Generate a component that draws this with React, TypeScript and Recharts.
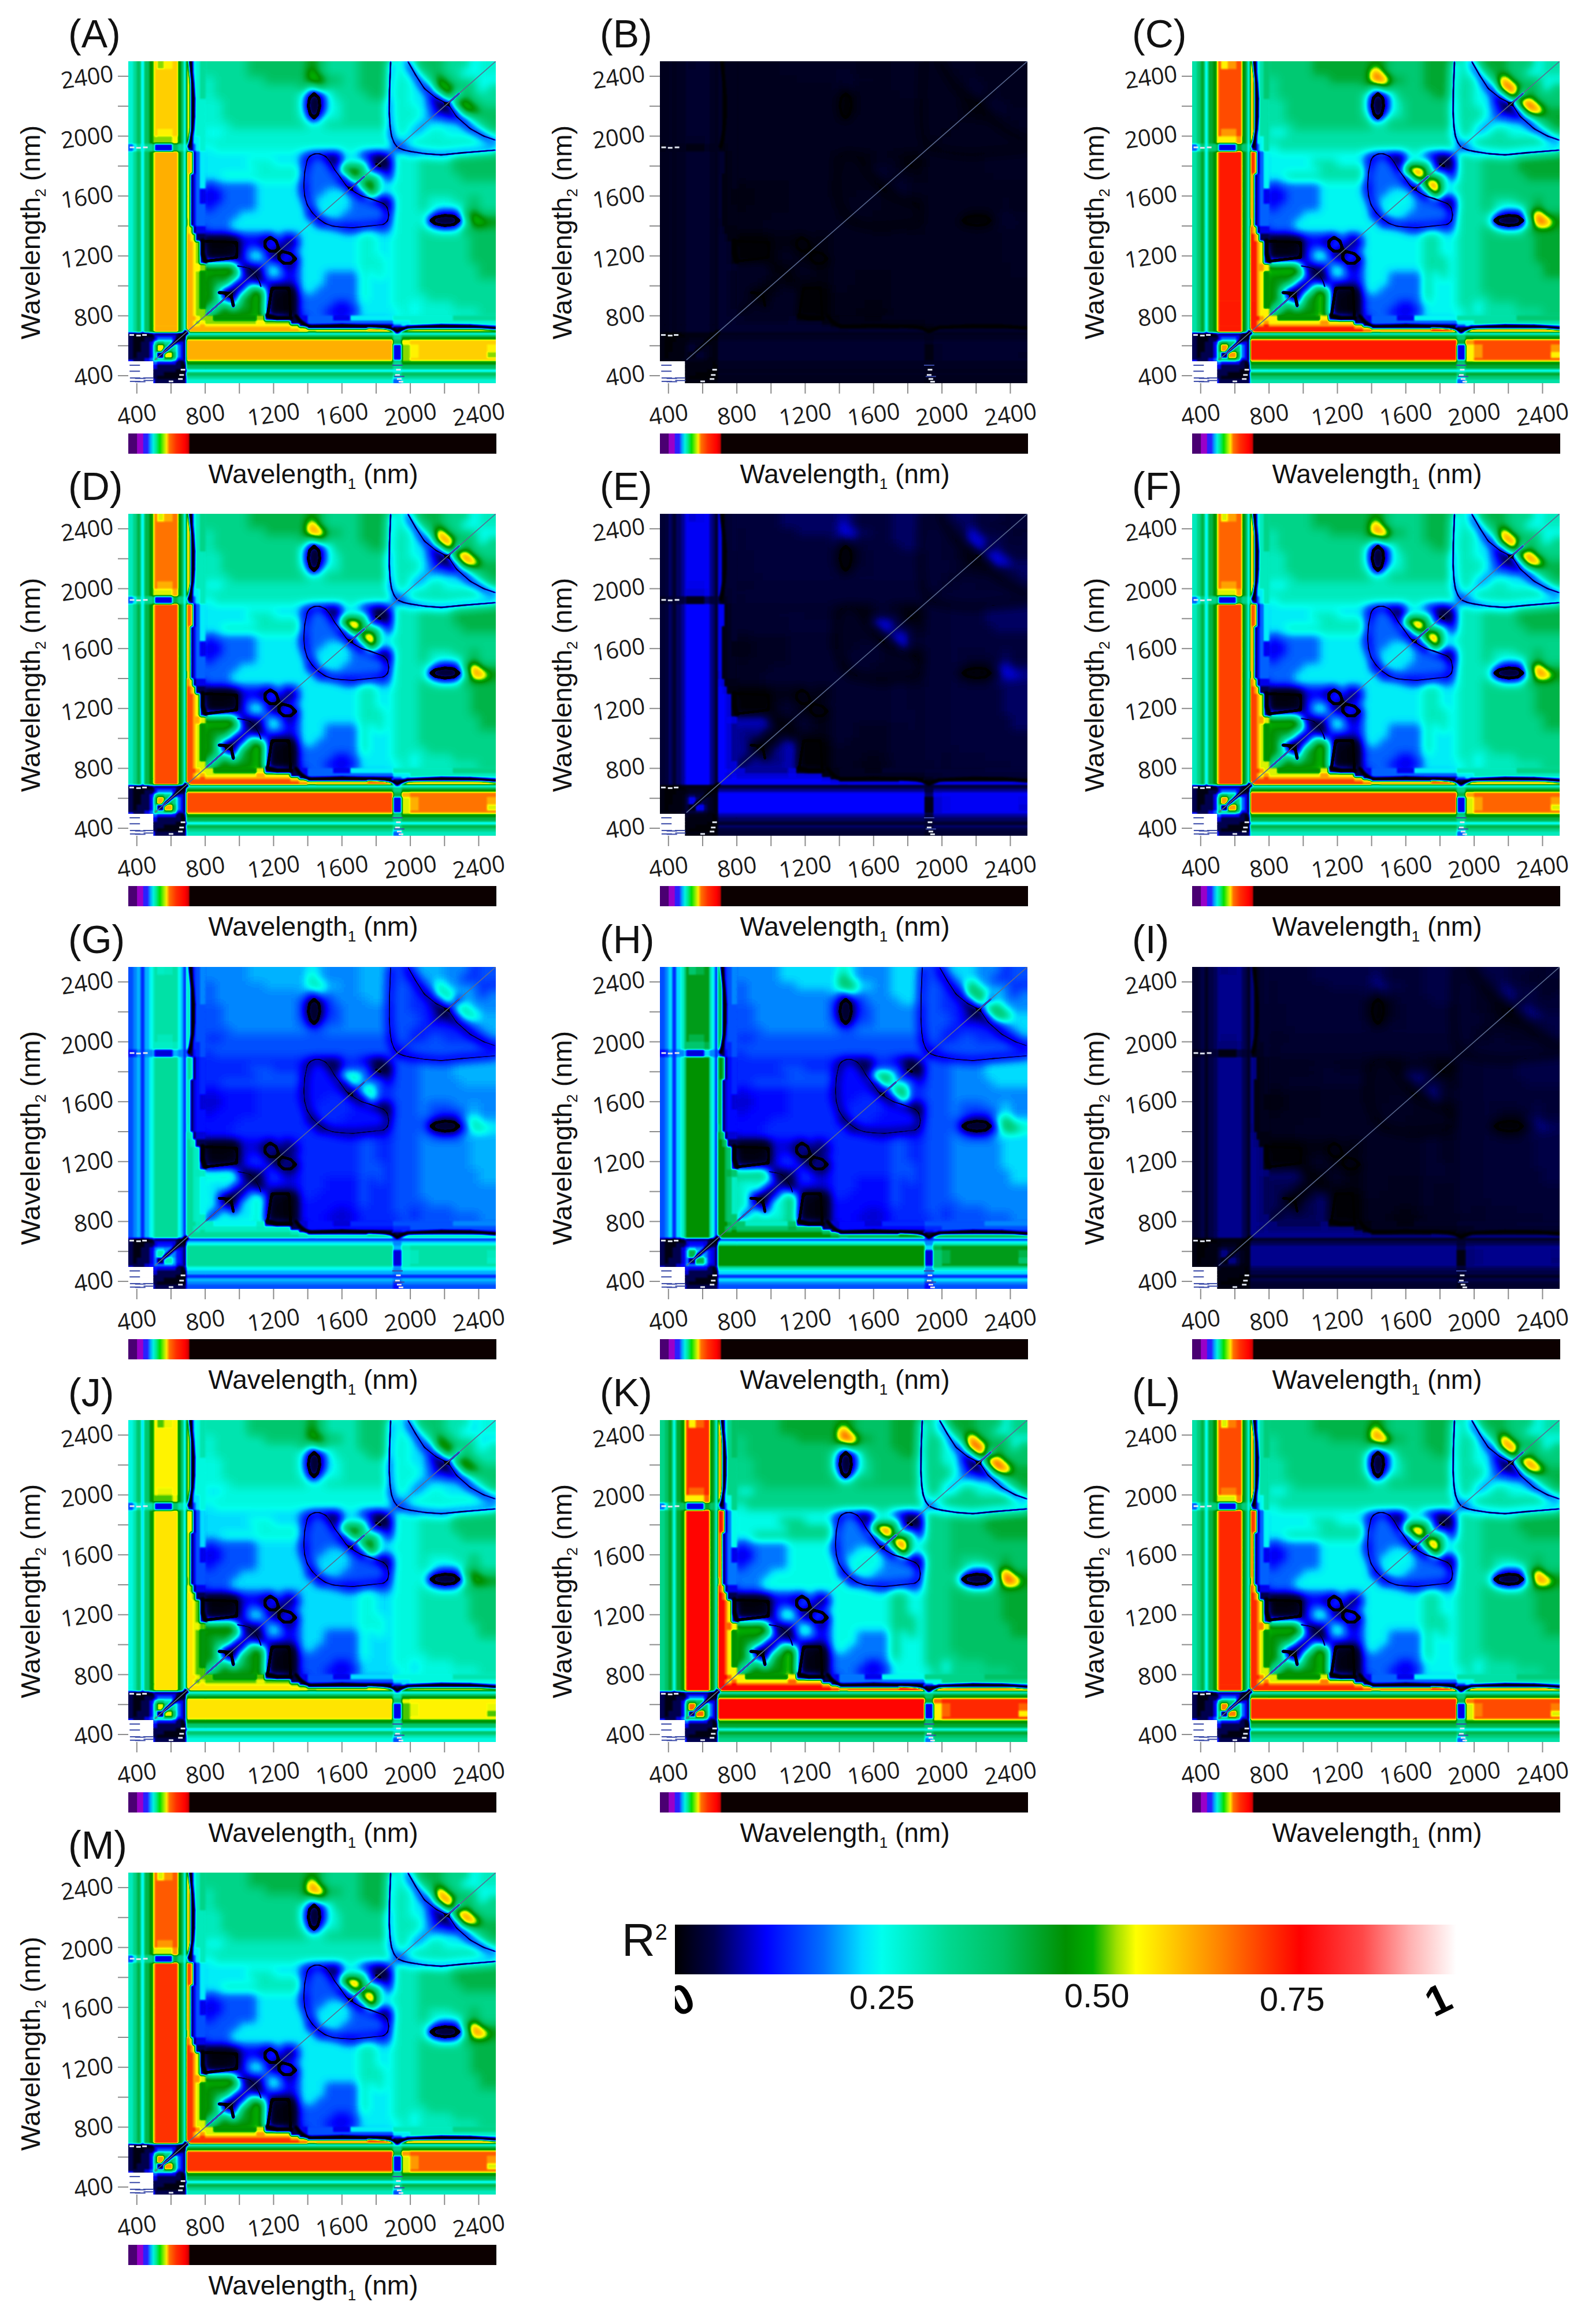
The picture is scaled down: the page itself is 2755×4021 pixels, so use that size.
import React from "react"
import { BarChart, Bar, ComposedChart, Scatter, XAxis, YAxis } from "recharts"

// wavelength bin edges, nm (fine in the visible, 50 nm above 800)
const edges = [350, 380, 400, 425, 445, 475, 495, 505, 520, 560, 610, 630, 642, 660, 675, 690, 700, 715, 730, 745, 770,
  800, 850, 900, 950, 1000, 1050, 1100, 1150, 1200, 1250, 1300, 1350, 1400, 1450, 1500, 1550, 1600, 1650, 1700, 1750,
  1800, 1850, 1900, 1950, 2000, 2050, 2100, 2150, 2200, 2250, 2300, 2350, 2400, 2450, 2500]

const P = "tugcgGlooooooGgc".slice(0, 12) + "Ggc"
const Q = "tugcgGlqqqqqGgc"

// zone of each cell, upper-left triangle (the maps are symmetric), y from 2450 down to 350
const zoneRows = [
  "tugcgGlqlyqqGgc lynctu uuuuuggggggg Gguuuugggg tcuggguuuctt",
  Q + " lynctu uuuuuggggggg hguuuugggg tccugguucct",
  Q + " lynctu tuuuuuuggggg hhgguugggg ttccuhguuu",
  Q + " lynctu tuuuuuuuuuug cguuuugggg ttccahhgg",
  Q + " lynctu tuuuuuuuuuuc nbcuuuuggg ttccaahg",
  Q + " lynctt ttuuuuuuuuuc nbctuuuuuu ttccbna",
  Q + " lynctt ttuuuuuuuuuc nbctuuuuuu tttcab",
  Q + " lynctt ttuuuuuuuuut bcttuuuuuu tttca",
  Q + " lynctt tttuuuuuuuuu ttuuuuuuuu ttca",
  "tugcgGlqyyqqGgc lynctt cctttttttttt tttttttttt tta",
  "tugcgGllllyyGgc lyncct tttttttttttt tttttttttt ta",
  "acucuugbbbgguuc gbnact cttttttttttt tttttttttt a",
  P + " yoynac ccccccccccca aannccbnkb",
  P + " yoynac ccccctttccca aaancctbn",
  P + " yoynac cccccctttttc aaaahhgb",
  P + " yynbac cctttttttttc aaaanhh",
  P + " yynbac baaaaaccccca aaaaan",
  P + " yynbab bbaaaaccccca aaccc",
  P + " yynbab bbaaaacccccc accc",
  P + " yynbaa baaaaacccccc acc",
  P + " yynbaa aaaacccccccc nc",
  P + " lynbaa aaaccccccccc c",
  P + " oylnbb aaaccccccccc",
  P + " ooylnn kkkkbbbbcnb",
  P + " oooyln kkkkbbbuun",
  P + " oooyln kkknbccbn",
  P + " oooylb nnbbbccb",
  P + " oooyyl llllnnn",
  P + " oooylG GGGGbn",
  P + " oooylG GgGbn",
  P + " oooylG GGnn",
  P + " oooylG GGn",
  P + " oooylG GG",
  P + " oooyll G",
  P + " ooooyl",
  P + " oooyl",
  P + " oooy",
  P + " ooo",
  P + " yo",
  P + " y",
  "nkkkknbnnnnnkkk",
  "nkkkkknbbbbnnk",
  "nkkknnnbaabnn",
  "nkkknnbaccab",
  "nkknnbaugua",
  "nkknnbcgyg",
  "nknnnbcun",
  "nnnnbacg",
  "annnbac",
  "zzzzzz",
  "zzzzz",
  "zzzz",
  "zzz",
  "zz",
  "z",
]

// R2 of each zone in each panel
const zoneKeys = "knbactugGlyohq"
const panelA = [0.01, 0.05, 0.11, 0.18, 0.25, 0.29, 0.34, 0.42, 0.5, 0.56, 0.6, 0.66, 0.58, 0.63]
const panelB = [0.005, 0.01, 0.012, 0.015, 0.018, 0.02, 0.02, 0.022, 0.025, 0.028, 0.03, 0.032, 0.03, 0.031]
const panelC = [0.01, 0.05, 0.11, 0.18, 0.26, 0.33, 0.39, 0.46, 0.5, 0.6, 0.68, 0.78, 0.78, 0.74]
const panelD = [0.01, 0.05, 0.11, 0.18, 0.25, 0.31, 0.36, 0.44, 0.5, 0.58, 0.66, 0.74, 0.74, 0.71]
const panelE = [0.005, 0.01, 0.015, 0.025, 0.03, 0.035, 0.04, 0.06, 0.08, 0.1, 0.11, 0.117, 0.115, 0.115]
const panelF = [0.01, 0.05, 0.11, 0.18, 0.25, 0.31, 0.36, 0.44, 0.5, 0.58, 0.67, 0.75, 0.75, 0.72]
const panelG = [0.01, 0.05, 0.1, 0.125, 0.14, 0.17, 0.2, 0.22, 0.26, 0.3, 0.31, 0.34, 0.33, 0.33]
const panelH = [0.01, 0.05, 0.1, 0.12, 0.14, 0.17, 0.2, 0.24, 0.3, 0.4, 0.44, 0.5, 0.44, 0.48]
const panelI = [0.005, 0.01, 0.013, 0.02, 0.025, 0.03, 0.035, 0.045, 0.055, 0.065, 0.07, 0.075, 0.07, 0.073]
const panelJ = [0.01, 0.05, 0.11, 0.17, 0.24, 0.28, 0.32, 0.4, 0.49, 0.55, 0.585, 0.61, 0.56, 0.6]
const panelK = [0.01, 0.05, 0.11, 0.19, 0.27, 0.36, 0.41, 0.46, 0.5, 0.6, 0.72, 0.8, 0.8, 0.77]
const panelL = [0.01, 0.05, 0.11, 0.18, 0.26, 0.33, 0.38, 0.44, 0.5, 0.58, 0.7, 0.77, 0.75, 0.74]
const panelM = [0.01, 0.05, 0.11, 0.17, 0.25, 0.31, 0.36, 0.44, 0.5, 0.58, 0.68, 0.76, 0.75, 0.73]

const panels = [
  { name: "(A)", col: 0, row: 0, values: panelA },
  { name: "(B)", col: 1, row: 0, values: panelB },
  { name: "(C)", col: 2, row: 0, values: panelC },
  { name: "(D)", col: 0, row: 1, values: panelD },
  { name: "(E)", col: 1, row: 1, values: panelE },
  { name: "(F)", col: 2, row: 1, values: panelF },
  { name: "(G)", col: 0, row: 2, values: panelG },
  { name: "(H)", col: 1, row: 2, values: panelH },
  { name: "(I)", col: 2, row: 2, values: panelI },
  { name: "(J)", col: 0, row: 3, values: panelJ },
  { name: "(K)", col: 1, row: 3, values: panelK },
  { name: "(L)", col: 2, row: 3, values: panelL },
  { name: "(M)", col: 0, row: 4, values: panelM },
]

// thin dark contours, [wavelength1, wavelength2]
const thinContours = [
  [[712, 2500], [725, 2350], [731, 2250], [730, 2130], [725, 2050], [715, 1975], [705, 1930]],
  [[1330, 800], [1355, 765], [1385, 738], [1420, 728], [1600, 735], [1784, 729], [1850, 724], [1884, 718], [1923, 696]],
  [[1923, 696], [1950, 708], [1983, 722], [2181, 733], [2350, 730], [2500, 718]],
  [[1885, 2500], [1878, 2300], [1877, 2150], [1882, 2060], [1890, 2000], [1905, 1955], [1925, 1925]],
  [[1925, 1925], [1960, 1908], [2000, 1898], [2090, 1882], [2181, 1875], [2300, 1888], [2500, 1907]],
  [[1985, 2500], [2030, 2410], [2082, 2318], [2150, 2255], [2221, 2214]],
  [[2221, 2214], [2270, 2130], [2350, 2050], [2430, 2000], [2500, 1972]],
  [[1457, 1453], [1500, 1418], [1546, 1399], [1600, 1392], [1665, 1388], [1760, 1400], [1844, 1410], [1868, 1435], [1874, 1475], [1865, 1525],
    [1844, 1550], [1764, 1583], [1715, 1600], [1675, 1626], [1625, 1669], [1590, 1725], [1556, 1777], [1530, 1830], [1506, 1864], [1470, 1882],
    [1437, 1881], [1410, 1865], [1397, 1842], [1382, 1760], [1377, 1669], [1382, 1600], [1397, 1540], [1425, 1490], [1457, 1453]],
  [[985, 1134], [1030, 1125], [1063, 1114], [1085, 1090], [1104, 1056], [1118, 1025], [1127, 991]],
  [[560, 560], [680, 680]],
  [[795, 795], [1000, 1000]],
  [[1640, 1640], [1735, 1735]],
  [[2150, 2150], [2290, 2290]],
]
// wider dark marks: the blobs, the lobes and the star on the diagonal
const wideContours = [
  [[1437, 2285], [1465, 2255], [1470, 2200], [1458, 2145], [1437, 2120], [1415, 2145], [1403, 2200], [1410, 2255], [1437, 2285]],
  [[2285, 1437], [2255, 1465], [2200, 1470], [2145, 1458], [2120, 1437], [2145, 1415], [2200, 1403], [2255, 1410], [2285, 1437]],
  [[785, 1300], [985, 1290], [985, 1190], [800, 1165], [785, 1220], [785, 1300]],
  [[1300, 785], [1290, 985], [1190, 985], [1165, 800], [1220, 785], [1300, 785]],
  [[1235, 1235], [1215, 1300], [1180, 1325], [1150, 1300], [1150, 1260], [1180, 1230], [1235, 1235]],
  [[1235, 1235], [1300, 1215], [1330, 1180], [1300, 1150], [1260, 1150], [1230, 1180], [1235, 1235]],
  [[880, 955], [950, 950], [965, 865]],
  [[1800, 1815], [1825, 1800]],
  [[678, 678], [688, 688]],
]
const diagonal = [[505, 505], [2500, 2500]]

// stray pixels around the noisy bands
const whiteSpecks = [[670, 440], [662, 405], [655, 378], [600, 362], [370, 672], [410, 668], [445, 672], [372, 1925], [410, 1922], [450, 1925],
  [1930, 440], [1925, 405], [1935, 378], [1945, 360]]
const blueSpecks = [[390, 385], [420, 382], [468, 385], [388, 430], [388, 470], [390, 362], [420, 360], [470, 368], [1925, 470], [1935, 395]]

const rampOffsets = [0, 0.05, 0.117, 0.19, 0.24, 0.265, 0.35, 0.42, 0.5, 0.535, 0.565, 0.59, 0.7, 0.8, 0.88, 0.94, 1]
const rampColors = ["#000000", "#00004a", "#0000ff", "#0070ff", "#00e0ff", "#00ffee", "#00d890", "#00c060", "#009000",
  "#00b000", "#a0e000", "#ffff00", "#ff8000", "#ff0000", "#ff4848", "#ffb0b0", "#ffffff"]

const spectrumOffsets = [0, 0.0235, 0.0245, 0.039, 0.042, 0.052, 0.06, 0.068, 0.076, 0.086, 0.098, 0.104, 0.112, 0.13, 0.154, 0.1635, 0.168, 1]
const spectrumColors = ["#4a0072", "#4a0072", "#9a00c8", "#9a00c8", "#2a20ff", "#2a20ff", "#00a0ff", "#00f0e0", "#00e890",
  "#00e000", "#a8f000", "#ffe800", "#ff7000", "#ff3000", "#ff0000", "#d00000", "#0c0000", "#0c0000"]

const axisTicks = [400, 600, 800, 1000, 1200, 1400, 1600, 1800, 2000, 2200, 2400]
const legendTicks = [0.016, 0.265, 0.54, 0.79, 0.985]
const legendLabels = ["0", "0.25", "0.50", "0.75", "1"]
const legendDy = [58, 52, 49, 55, 58]

const colLeft = [222, 1142, 2063]
const rowTop = [106, 889, 1673, 2457, 3240]
const PLOT_W = 636
const PLOT_H = 557
const NM = 2150
const TICK_FONT = "'Open Sans', sans-serif"
const TEXT_FONT = "'Liberation Sans', Arial, sans-serif"

function rampChannel(v: number, s: number) {
  let i = 0
  while (i < rampOffsets.length - 2 && v > rampOffsets[i + 1]) i++
  const t = (v - rampOffsets[i]) / (rampOffsets[i + 1] - rampOffsets[i])
  const x = parseInt(rampColors[i].slice(s, s + 2), 16)
  const y = parseInt(rampColors[i + 1].slice(s, s + 2), 16)
  return (x + (y - x) * t) / 255
}
// lookup tables for the svg filter: the cells paint R2 as a grey level, the filter colours it
const tableFor = (s: number) => Array.from({ length: 129 }, (_, i) => rampChannel(i / 128, s).toFixed(3)).join(" ")

// full symmetric zone matrix, then runs of equal zones along each row
function buildRuns() {
  const n = edges.length - 1
  const grid: string[][] = Array.from({ length: n }, () => new Array(n).fill("u"))
  zoneRows.forEach((raw, k) => {
    const row = raw.replace(/ /g, "")
    const i = n - 1 - k
    for (let j = 0; j < row.length && j <= i; j++) {
      grid[i][j] = row[j]
      grid[j][i] = row[j]
    }
  })
  const runs: { x: number; y: number; w: number; h: number; zone: string }[] = []
  for (let i = 0; i < n; i++) {
    let start = 0
    for (let j = 1; j <= n; j++) {
      if (j === n || edges[j] === 800 || grid[i][j] !== grid[i][start]) {
        runs.push({
          x: (edges[start] + edges[j]) / 2,
          y: (edges[i] + edges[i + 1]) / 2,
          w: edges[j] - edges[start],
          h: edges[i + 1] - edges[i],
          zone: grid[i][start],
        })
        start = j
      }
    }
  }
  return runs
}
const runs = buildRuns()

function toSegments(contours: number[][][], width: number) {
  const out: any[] = []
  contours.forEach((c) => {
    for (let i = 0; i + 1 < c.length; i++) {
      out.push({ x: c[i][0], y: c[i][1], x2: c[i + 1][0], y2: c[i + 1][1], width, seg: true })
    }
  })
  return out
}
const segments = [...toSegments(thinContours, 6), ...toSegments(wideContours, 9)]
const isFineSeg = (s: any) => Math.max(s.y, s.y2) <= 800 || Math.max(s.x, s.x2) <= 800
const fineSegments = segments.filter(isFineSeg)
const coarseSegments = segments.filter((s) => !isFineSeg(s))

function HeatCell(props: any) {
  const d = props.payload
  const sx = PLOT_W / NM
  const sy = PLOT_H / NM
  if (d.seg) {
    return (
      <line x1={props.cx} y1={props.cy} x2={props.cx + (d.x2 - d.x) * sx} y2={props.cy - (d.y2 - d.y) * sy}
        stroke="rgb(0,0,0)" strokeWidth={d.width} strokeLinecap="round" />
    )
  }
  let w = d.w * sx
  let h = d.h * sy
  let left = props.cx - w / 2
  let top = props.cy - h / 2
  if (d.x - d.w / 2 <= 350) { left -= 24; w += 24 }
  if (d.x + d.w / 2 >= 2500) w += 24
  if (d.y - d.h / 2 <= 350) h += 24
  if (d.y + d.h / 2 >= 2500) { top -= 24; h += 24 }
  return <rect x={left - 0.4} y={top - 0.4} width={w + 0.8} height={h + 0.8} fill={d.fill} />
}
const NoDot = () => null
const WhiteSpeck = (props: any) => <rect x={props.cx - 4} y={props.cy - 1.5} width={8} height={3} fill="#dfe4ee" />
const BlueSpeck = (props: any) => <rect x={props.cx - 9} y={props.cy - 1} width={18} height={2} fill="#3a4aa8" />

function XTick(props: any) {
  const { x, y, payload } = props
  if (payload.value % 400 !== 0) return null
  return (
    <text transform={`translate(${x + 2},${y + 48}) rotate(-8)`} textAnchor="middle" fontFamily={TICK_FONT} fontSize={40} fill="#1a1a1a">
      {payload.value}
    </text>
  )
}

function YTick(props: any) {
  const { x, y, payload } = props
  if (payload.value % 400 !== 0) return null
  return (
    <text transform={`translate(${x - 4},${y + 9}) rotate(-8)`} textAnchor="end" fontFamily={TICK_FONT} fontSize={40} fill="#1a1a1a">
      {payload.value}
    </text>
  )
}

const toPoints = (pts: number[][]) => pts.map(([x, y]) => ({ x, y }))

function Panel({ name, col, row, values }: any) {
  const left = colLeft[col]
  const top = rowTop[row]
  const grey = (zone: string) => {
    const v = values[zoneKeys.indexOf(zone === "z" ? "n" : zone)]
    return `rgb(${(v * 255).toFixed(1)},255,0)`
  }
  const cells = runs.map((r) => ({ ...r, fill: grey(r.zone) }))
  const fine = cells.filter((r) => r.y < 800 || r.x + r.w / 2 <= 800)
  const blank = runs.filter((r) => r.zone === "z").map((r) => ({ ...r, fill: "#ffffff" }))
  const gradId = `spectrum-${row}-${col}`
  return (
    <>
      <div style={{ position: "absolute", left: left - 104, top: top - 88, fontFamily: TEXT_FONT, fontSize: 68, lineHeight: "80px", color: "#111" }}>{name}</div>
      <div style={{ position: "absolute", left: left - 222, top: top - 106 }}>
        <ComposedChart width={900} height={763} margin={{ top: 106, right: 42, bottom: 0, left: 0 }}>
          <XAxis dataKey="x" type="number" domain={[350, 2500]} ticks={axisTicks} interval={0} allowDataOverflow height={100}
            axisLine={false} tickSize={18} tickLine={{ stroke: "#8c8c8c", strokeWidth: 2 }} tick={<XTick />} />
          <YAxis dataKey="y" type="number" domain={[350, 2500]} ticks={axisTicks} interval={0} allowDataOverflow width={222}
            axisLine={false} tickSize={18} tickLine={{ stroke: "#8c8c8c", strokeWidth: 2 }} tick={<YTick />} />
          <Scatter data={[...cells, ...coarseSegments]} shape={HeatCell} className="field-coarse" isAnimationActive={false} />
          <Scatter data={[...fine, ...fineSegments]} shape={HeatCell} className="field-fine" isAnimationActive={false} />
          <Scatter data={blank} shape={HeatCell} isAnimationActive={false} />
          <Scatter data={toPoints(whiteSpecks)} shape={WhiteSpeck} isAnimationActive={false} />
          <Scatter data={toPoints(blueSpecks)} shape={BlueSpeck} isAnimationActive={false} />
          <Scatter data={toPoints(diagonal)} shape={NoDot} line={{ stroke: "#5a6a92", strokeWidth: 1.6 }} isAnimationActive={false} />
        </ComposedChart>
      </div>
      <div style={{ position: "absolute", left: left, top: top + PLOT_H + 87 }}>
        <BarChart width={637} height={35} layout="vertical" data={[{ name: "spectrum", span: 1 }]} margin={{ top: 0, right: 0, bottom: 0, left: 0 }} barCategoryGap={0}>
          <defs>
            <linearGradient id={gradId} x1="0" y1="0" x2="1" y2="0">
              {spectrumOffsets.map((o, i) => <stop key={i} offset={o} stopColor={spectrumColors[i]} />)}
            </linearGradient>
          </defs>
          <XAxis type="number" domain={[0, 1]} hide />
          <YAxis type="category" dataKey="name" hide />
          <Bar dataKey="span" fill={`url(#${gradId})`} isAnimationActive={false} />
        </BarChart>
      </div>
      <div style={{ position: "absolute", left: left + 320 - 250, width: 500, top: top + PLOT_H + 129, textAlign: "center", fontFamily: TEXT_FONT, fontSize: 46, lineHeight: "56px", color: "#111", whiteSpace: "nowrap" }}>
        Wavelength<sub style={{ fontSize: 26 }}>1</sub> (nm)
      </div>
      <div style={{ position: "absolute", left: left - 197, top: top + 296 + 210, width: 420, height: 56, textAlign: "center", transformOrigin: "0 0", transform: "rotate(-90deg)", fontFamily: TEXT_FONT, fontSize: 47, lineHeight: "56px", color: "#111", whiteSpace: "nowrap" }}>
        Wavelength<sub style={{ fontSize: 26 }}>2</sub> (nm)
      </div>
    </>
  )
}

function LegendTick(props: any) {
  const { x, y, index } = props
  const label = legendLabels[index]
  if (label === "0" || label === "1") {
    return (
      <text transform={`translate(${x},${y + legendDy[index]}) rotate(-26)`} textAnchor="middle" fontFamily={TEXT_FONT} fontWeight="bold" fontSize={72} fill="#000">
        {label}
      </text>
    )
  }
  return (
    <text x={x} y={y + legendDy[index]} textAnchor="middle" fontFamily={TEXT_FONT} fontSize={58} fill="#111">
      {label}
    </text>
  )
}

function ColorLegend() {
  return (
    <>
      <div style={{ position: "absolute", left: 1076, top: 3312, fontFamily: TEXT_FONT, fontSize: 80, lineHeight: "90px", color: "#111" }}>
        R<sup style={{ fontSize: 38, lineHeight: 0 }}>2</sup>
      </div>
      <div style={{ position: "absolute", left: 1168, top: 3330 }}>
        <BarChart width={1352} height={180} layout="vertical" data={[{ name: "R2", span: 1 }]} margin={{ top: 0, right: 0, bottom: 0, left: 0 }} barCategoryGap={0}>
          <defs>
            <linearGradient id="ramp" x1="0" y1="0" x2="1" y2="0">
              {rampOffsets.map((o, i) => <stop key={i} offset={o} stopColor={rampColors[i]} />)}
            </linearGradient>
          </defs>
          <XAxis type="number" domain={[0, 1]} ticks={legendTicks} interval={0} height={94} axisLine={false} tickLine={false} tick={<LegendTick />} />
          <YAxis type="category" dataKey="name" hide />
          <Bar dataKey="span" fill="url(#ramp)" isAnimationActive={false} />
        </BarChart>
      </div>
    </>
  )
}

function FieldFilters() {
  const transfer = (
    <feComponentTransfer>
      <feFuncR type="table" tableValues={tableFor(1)} />
      <feFuncG type="table" tableValues={tableFor(3)} />
      <feFuncB type="table" tableValues={tableFor(5)} />
    </feComponentTransfer>
  )
  return (
    <svg width={0} height={0} style={{ position: "absolute" }}>
      <filter id="fieldCoarse" colorInterpolationFilters="sRGB" x="-5%" y="-5%" width="110%" height="110%">
        <feColorMatrix in="SourceGraphic" type="matrix" values="1 0 0 0 0 1 0 0 0 0 1 0 0 0 0 0 0 0 1 0" result="wide" />
        <feGaussianBlur in="wide" stdDeviation="8" result="wideBlur" />
        <feColorMatrix in="SourceGraphic" type="matrix" values="0 1 0 0 0 0 1 0 0 0 0 1 0 0 0 0 0 0 1 0" result="sharp" />
        <feGaussianBlur in="sharp" stdDeviation="2" />
        <feComponentTransfer result="sharpBlur">
          <feFuncR type="linear" slope="1.5" intercept="-0.22" />
          <feFuncG type="linear" slope="1.5" intercept="-0.22" />
          <feFuncB type="linear" slope="1.5" intercept="-0.22" />
        </feComponentTransfer>
        <feBlend in="wideBlur" in2="sharpBlur" mode="darken" />
        {transfer}
      </filter>
      <filter id="fieldFine" colorInterpolationFilters="sRGB" x="-5%" y="-5%" width="110%" height="110%">
        <feColorMatrix in="SourceGraphic" type="matrix" values="1 0 0 0 0 1 0 0 0 0 1 0 0 0 0 0 0 0 1 0" />
        <feGaussianBlur stdDeviation="1.4" />
        {transfer}
      </filter>
    </svg>
  )
}

export default function App() {
  return (
    <div style={{ position: "absolute", left: 0, top: 0, width: 2755, height: 4021, background: "#fff", overflow: "hidden" }}>
      <style>{`.field-coarse { filter: url(#fieldCoarse); } .field-fine { filter: url(#fieldFine); }`}</style>
      <FieldFilters />
      {panels.map((p) => <Panel key={p.name} {...p} />)}
      <ColorLegend />
    </div>
  )
}
